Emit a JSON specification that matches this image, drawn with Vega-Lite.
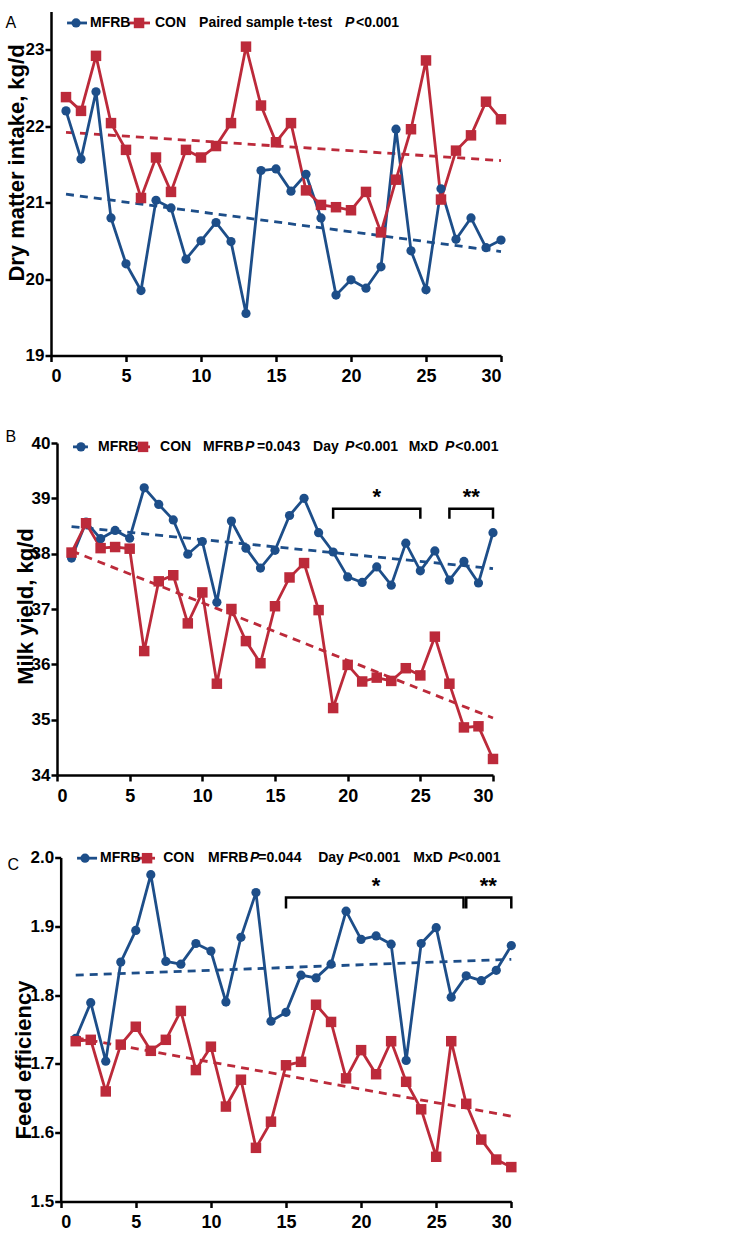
{
  "$schema": "https://vega.github.io/schema/vega-lite/v6.json",
  "padding": {"left": 5, "top": 11.5, "right": 5, "bottom": 5},
  "background": "white",
  "columns": 1,
  "align": "none",
  "spacing": 43.5,
  "datasets": {
    "seriesA": [
      {"day":1,"g":"MFRB","value":22.2},{"day":2,"g":"MFRB","value":21.57},{"day":3,"g":"MFRB","value":22.45},{"day":4,"g":"MFRB","value":20.8},{"day":5,"g":"MFRB","value":20.2},{"day":6,"g":"MFRB","value":19.85},{"day":7,"g":"MFRB","value":21.03},{"day":8,"g":"MFRB","value":20.93},{"day":9,"g":"MFRB","value":20.26},{"day":10,"g":"MFRB","value":20.5},{"day":11,"g":"MFRB","value":20.74},{"day":12,"g":"MFRB","value":20.49},{"day":13,"g":"MFRB","value":19.55},{"day":14,"g":"MFRB","value":21.42},{"day":15,"g":"MFRB","value":21.44},{"day":16,"g":"MFRB","value":21.15},{"day":17,"g":"MFRB","value":21.37},{"day":18,"g":"MFRB","value":20.8},{"day":19,"g":"MFRB","value":19.79},{"day":20,"g":"MFRB","value":19.99},{"day":21,"g":"MFRB","value":19.88},{"day":22,"g":"MFRB","value":20.16},{"day":23,"g":"MFRB","value":21.96},{"day":24,"g":"MFRB","value":20.37},{"day":25,"g":"MFRB","value":19.86},{"day":26,"g":"MFRB","value":21.18},{"day":27,"g":"MFRB","value":20.52},{"day":28,"g":"MFRB","value":20.8},{"day":29,"g":"MFRB","value":20.41},{"day":30,"g":"MFRB","value":20.51},
      {"day":1,"g":"CON","value":22.38},{"day":2,"g":"CON","value":22.2},{"day":3,"g":"CON","value":22.92},{"day":4,"g":"CON","value":22.04},{"day":5,"g":"CON","value":21.69},{"day":6,"g":"CON","value":21.06},{"day":7,"g":"CON","value":21.59},{"day":8,"g":"CON","value":21.14},{"day":9,"g":"CON","value":21.69},{"day":10,"g":"CON","value":21.59},{"day":11,"g":"CON","value":21.74},{"day":12,"g":"CON","value":22.04},{"day":13,"g":"CON","value":23.04},{"day":14,"g":"CON","value":22.27},{"day":15,"g":"CON","value":21.79},{"day":16,"g":"CON","value":22.04},{"day":17,"g":"CON","value":21.16},{"day":18,"g":"CON","value":20.97},{"day":19,"g":"CON","value":20.94},{"day":20,"g":"CON","value":20.9},{"day":21,"g":"CON","value":21.14},{"day":22,"g":"CON","value":20.61},{"day":23,"g":"CON","value":21.3},{"day":24,"g":"CON","value":21.96},{"day":25,"g":"CON","value":22.86},{"day":26,"g":"CON","value":21.04},{"day":27,"g":"CON","value":21.68},{"day":28,"g":"CON","value":21.88},{"day":29,"g":"CON","value":22.32},{"day":30,"g":"CON","value":22.09}
    ],
    "trendA": [
      {"day":1,"g":"MFRB","value":21.11},{"day":30,"g":"MFRB","value":20.36},
      {"day":1,"g":"CON","value":21.92},{"day":30,"g":"CON","value":21.55}
    ],
    "legLineA": [
      {"day":1.07,"g":"MFRB","value":23.35},{"day":2.4,"g":"MFRB","value":23.35},
      {"day":5.13,"g":"CON","value":23.35},{"day":6.6,"g":"CON","value":23.35}
    ],
    "legPtA": [
      {"day":1.67,"g":"MFRB","value":23.35},{"day":5.87,"g":"CON","value":23.35}
    ],
    "legTextA": [
      {"t":"MFRB","day":2.6,"value":23.35},{"t":"CON","day":6.93,"value":23.35},{"t":"Paired sample t-test","day":9.87,"value":23.35},{"t":"P","day":19.6,"value":23.35},{"t":"<0.001","day":20.33,"value":23.35}
    ],
    "seriesB": [
      {"day":1,"g":"MFRB","value":37.92},{"day":2,"g":"MFRB","value":38.57},{"day":3,"g":"MFRB","value":38.27},{"day":4,"g":"MFRB","value":38.42},{"day":5,"g":"MFRB","value":38.28},{"day":6,"g":"MFRB","value":39.19},{"day":7,"g":"MFRB","value":38.89},{"day":8,"g":"MFRB","value":38.61},{"day":9,"g":"MFRB","value":37.99},{"day":10,"g":"MFRB","value":38.22},{"day":11,"g":"MFRB","value":37.12},{"day":12,"g":"MFRB","value":38.59},{"day":13,"g":"MFRB","value":38.1},{"day":14,"g":"MFRB","value":37.74},{"day":15,"g":"MFRB","value":38.06},{"day":16,"g":"MFRB","value":38.69},{"day":17,"g":"MFRB","value":39.0},{"day":18,"g":"MFRB","value":38.38},{"day":19,"g":"MFRB","value":38.03},{"day":20,"g":"MFRB","value":37.58},{"day":21,"g":"MFRB","value":37.48},{"day":22,"g":"MFRB","value":37.76},{"day":23,"g":"MFRB","value":37.43},{"day":24,"g":"MFRB","value":38.19},{"day":25,"g":"MFRB","value":37.69},{"day":26,"g":"MFRB","value":38.05},{"day":27,"g":"MFRB","value":37.52},{"day":28,"g":"MFRB","value":37.86},{"day":29,"g":"MFRB","value":37.47},{"day":30,"g":"MFRB","value":38.38},
      {"day":1,"g":"CON","value":38.02},{"day":2,"g":"CON","value":38.55},{"day":3,"g":"CON","value":38.1},{"day":4,"g":"CON","value":38.12},{"day":5,"g":"CON","value":38.09},{"day":6,"g":"CON","value":36.24},{"day":7,"g":"CON","value":37.5},{"day":8,"g":"CON","value":37.61},{"day":9,"g":"CON","value":36.74},{"day":10,"g":"CON","value":37.3},{"day":11,"g":"CON","value":35.65},{"day":12,"g":"CON","value":37.0},{"day":13,"g":"CON","value":36.42},{"day":14,"g":"CON","value":36.02},{"day":15,"g":"CON","value":37.05},{"day":16,"g":"CON","value":37.57},{"day":17,"g":"CON","value":37.83},{"day":18,"g":"CON","value":36.98},{"day":19,"g":"CON","value":35.21},{"day":20,"g":"CON","value":35.99},{"day":21,"g":"CON","value":35.69},{"day":22,"g":"CON","value":35.76},{"day":23,"g":"CON","value":35.7},{"day":24,"g":"CON","value":35.93},{"day":25,"g":"CON","value":35.8},{"day":26,"g":"CON","value":36.5},{"day":27,"g":"CON","value":35.65},{"day":28,"g":"CON","value":34.86},{"day":29,"g":"CON","value":34.88},{"day":30,"g":"CON","value":34.29}
    ],
    "trendB": [
      {"day":1,"g":"MFRB","value":38.49},{"day":30,"g":"MFRB","value":37.73},
      {"day":1,"g":"CON","value":38.05},{"day":30,"g":"CON","value":35.03}
    ],
    "legLineB": [
      {"day":1.1,"g":"MFRB","value":39.93},{"day":2.13,"g":"MFRB","value":39.93},
      {"day":5.5,"g":"CON","value":39.93},{"day":6.4,"g":"CON","value":39.93}
    ],
    "legPtB": [
      {"day":1.65,"g":"MFRB","value":39.93},{"day":5.92,"g":"CON","value":39.93}
    ],
    "legTextB": [
      {"t":"MFRB","day":2.82,"value":39.93},{"t":"CON","day":7.09,"value":39.93},{"t":"MFRB","day":10.05,"value":39.93},{"t":"P","day":12.94,"value":39.93},{"t":"=0.043","day":13.76,"value":39.93},{"t":"Day","day":17.62,"value":39.93},{"t":"P","day":19.82,"value":39.93},{"t":"<0.001","day":20.5,"value":39.93},{"t":"MxD","day":24.2,"value":39.93},{"t":"P","day":26.7,"value":39.93},{"t":"<0.001","day":27.4,"value":39.93}
    ],
    "bracketB": [
      {"b":1,"o":1,"day":19,"value":38.63},{"b":1,"o":2,"day":19,"value":38.81},{"b":1,"o":3,"day":25,"value":38.81},{"b":1,"o":4,"day":25,"value":38.63},
      {"b":2,"o":1,"day":27,"value":38.63},{"b":2,"o":2,"day":27,"value":38.81},{"b":2,"o":3,"day":30,"value":38.81},{"b":2,"o":4,"day":30,"value":38.63}
    ],
    "starB": [
      {"t":"*","day":22,"value":39.03},{"t":"**","day":28.5,"value":39.03}
    ],
    "seriesC": [
      {"day":1,"g":"MFRB","value":1.737},{"day":2,"g":"MFRB","value":1.789},{"day":3,"g":"MFRB","value":1.704},{"day":4,"g":"MFRB","value":1.848},{"day":5,"g":"MFRB","value":1.894},{"day":6,"g":"MFRB","value":1.975},{"day":7,"g":"MFRB","value":1.849},{"day":8,"g":"MFRB","value":1.845},{"day":9,"g":"MFRB","value":1.875},{"day":10,"g":"MFRB","value":1.864},{"day":11,"g":"MFRB","value":1.79},{"day":12,"g":"MFRB","value":1.884},{"day":13,"g":"MFRB","value":1.949},{"day":14,"g":"MFRB","value":1.762},{"day":15,"g":"MFRB","value":1.775},{"day":16,"g":"MFRB","value":1.829},{"day":17,"g":"MFRB","value":1.825},{"day":18,"g":"MFRB","value":1.845},{"day":19,"g":"MFRB","value":1.922},{"day":20,"g":"MFRB","value":1.881},{"day":21,"g":"MFRB","value":1.886},{"day":22,"g":"MFRB","value":1.874},{"day":23,"g":"MFRB","value":1.705},{"day":24,"g":"MFRB","value":1.875},{"day":25,"g":"MFRB","value":1.898},{"day":26,"g":"MFRB","value":1.797},{"day":27,"g":"MFRB","value":1.828},{"day":28,"g":"MFRB","value":1.821},{"day":29,"g":"MFRB","value":1.836},{"day":30,"g":"MFRB","value":1.872},
      {"day":1,"g":"CON","value":1.733},{"day":2,"g":"CON","value":1.735},{"day":3,"g":"CON","value":1.66},{"day":4,"g":"CON","value":1.728},{"day":5,"g":"CON","value":1.754},{"day":6,"g":"CON","value":1.719},{"day":7,"g":"CON","value":1.735},{"day":8,"g":"CON","value":1.777},{"day":9,"g":"CON","value":1.691},{"day":10,"g":"CON","value":1.725},{"day":11,"g":"CON","value":1.638},{"day":12,"g":"CON","value":1.677},{"day":13,"g":"CON","value":1.578},{"day":14,"g":"CON","value":1.616},{"day":15,"g":"CON","value":1.698},{"day":16,"g":"CON","value":1.703},{"day":17,"g":"CON","value":1.786},{"day":18,"g":"CON","value":1.761},{"day":19,"g":"CON","value":1.679},{"day":20,"g":"CON","value":1.72},{"day":21,"g":"CON","value":1.685},{"day":22,"g":"CON","value":1.733},{"day":23,"g":"CON","value":1.674},{"day":24,"g":"CON","value":1.634},{"day":25,"g":"CON","value":1.565},{"day":26,"g":"CON","value":1.733},{"day":27,"g":"CON","value":1.642},{"day":28,"g":"CON","value":1.59},{"day":29,"g":"CON","value":1.561},{"day":30,"g":"CON","value":1.55}
    ],
    "trendC": [
      {"day":1,"g":"MFRB","value":1.829},{"day":30,"g":"MFRB","value":1.852},
      {"day":1,"g":"CON","value":1.738},{"day":30,"g":"CON","value":1.624}
    ],
    "legLineC": [
      {"day":1.09,"g":"MFRB","value":1.999},{"day":2.42,"g":"MFRB","value":1.999},
      {"day":4.95,"g":"CON","value":1.999},{"day":6.28,"g":"CON","value":1.999}
    ],
    "legPtC": [
      {"day":1.62,"g":"MFRB","value":1.999},{"day":5.75,"g":"CON","value":1.999}
    ],
    "legTextC": [
      {"t":"MFRB","day":2.62,"value":1.999},{"t":"CON","day":6.82,"value":1.999},{"t":"MFRB","day":9.81,"value":1.999},{"t":"P","day":12.61,"value":1.999},{"t":"=0.044","day":13.15,"value":1.999},{"t":"Day","day":17.14,"value":1.999},{"t":"P","day":19.14,"value":1.999},{"t":"<0.001","day":19.74,"value":1.999},{"t":"MxD","day":23.47,"value":1.999},{"t":"P","day":25.8,"value":1.999},{"t":"<0.001","day":26.4,"value":1.999}
    ],
    "bracketC": [
      {"b":1,"o":1,"day":15,"value":1.926},{"b":1,"o":2,"day":15,"value":1.942},{"b":1,"o":3,"day":26.82,"value":1.942},{"b":1,"o":4,"day":26.82,"value":1.926},
      {"b":2,"o":1,"day":27,"value":1.926},{"b":2,"o":2,"day":27,"value":1.942},{"b":2,"o":3,"day":30,"value":1.942},{"b":2,"o":4,"day":30,"value":1.926}
    ],
    "starC": [
      {"t":"*","day":21,"value":1.958},{"t":"**","day":28.47,"value":1.958}
    ]
  },
  "concat": [
    {
      "width": 450, "height": 344,
      "title": {"text": "A", "anchor": "start", "frame": "bounds", "offset": -19, "dx": 0, "fontSize": 16, "fontWeight": "normal", "color": "black"},
      "encoding": {
        "x": {"field": "day", "type": "quantitative", "scale": {"domain": [0, 30], "nice": false}, "axis": {"values": [0,5,10,15,20,25,30], "title": null}},
        "y": {"field": "value", "type": "quantitative", "scale": {"domain": [19, 23.5], "nice": false, "zero": false}, "axis": {"values": [19,20,21,22,23], "title": "Dry matter intake, kg/d", "titleX": -22.6, "titleY": 151}},
        "color": {"field": "g", "type": "nominal", "scale": {"domain": ["MFRB", "CON"], "range": ["#1D4E89", "#BC2A3A"]}, "legend": null}
      },
      "layer": [
        {"data": {"name": "trendA"}, "mark": {"type": "line", "strokeDash": [8, 6], "strokeWidth": 2.8}},
        {"data": {"name": "seriesA"}, "mark": {"type": "line", "strokeWidth": 2.8}},
        {"data": {"name": "seriesA"}, "transform": [{"filter": "datum.g === 'MFRB'"}], "mark": {"type": "point", "shape": "circle", "filled": true, "opacity": 1, "size": 85}},
        {"data": {"name": "seriesA"}, "transform": [{"filter": "datum.g === 'CON'"}], "mark": {"type": "point", "shape": "square", "filled": true, "opacity": 1, "size": 110}},
        {"data": {"name": "legLineA"}, "mark": {"type": "line", "strokeWidth": 2.8}},
        {"data": {"name": "legPtA"}, "transform": [{"filter": "datum.g === 'MFRB'"}], "mark": {"type": "point", "shape": "circle", "filled": true, "opacity": 1, "size": 85}},
        {"data": {"name": "legPtA"}, "transform": [{"filter": "datum.g === 'CON'"}], "mark": {"type": "point", "shape": "square", "filled": true, "opacity": 1, "size": 110}},
        {"data": {"name": "legTextA"}, "transform": [{"filter": "datum.t !== 'P'"}], "mark": {"type": "text", "align": "left", "baseline": "middle", "fontWeight": "bold", "fontSize": 14}, "encoding": {"text": {"field": "t"}, "color": {"value": "black"}}},
        {"data": {"name": "legTextA"}, "transform": [{"filter": "datum.t === 'P'"}], "mark": {"type": "text", "align": "left", "baseline": "middle", "fontWeight": "bold", "fontStyle": "italic", "fontSize": 14}, "encoding": {"text": {"field": "t"}, "color": {"value": "black"}}}
      ]
    },
    {
      "width": 442, "height": 332,
      "title": {"text": "B", "anchor": "start", "frame": "bounds", "offset": -11, "dx": -8.5, "fontSize": 16, "fontWeight": "normal", "color": "black"},
      "encoding": {
        "x": {"field": "day", "type": "quantitative", "scale": {"domain": [0, 30], "nice": false, "range": [6, 442]}, "axis": {"values": [0,5,10,15,20,25,30], "title": null}},
        "y": {"field": "value", "type": "quantitative", "scale": {"domain": [34, 40], "nice": false, "zero": false}, "axis": {"values": [34,35,36,37,38,39,40], "title": "Milk yield, kg/d", "titleX": -20, "titleY": 163, "offset": -6}},
        "color": {"field": "g", "type": "nominal", "scale": {"domain": ["MFRB", "CON"], "range": ["#1D4E89", "#BC2A3A"]}, "legend": null}
      },
      "layer": [
        {"data": {"name": "trendB"}, "mark": {"type": "line", "strokeDash": [8, 6], "strokeWidth": 2.8}},
        {"data": {"name": "seriesB"}, "mark": {"type": "line", "strokeWidth": 2.8}},
        {"data": {"name": "seriesB"}, "transform": [{"filter": "datum.g === 'MFRB'"}], "mark": {"type": "point", "shape": "circle", "filled": true, "opacity": 1, "size": 85}},
        {"data": {"name": "seriesB"}, "transform": [{"filter": "datum.g === 'CON'"}], "mark": {"type": "point", "shape": "square", "filled": true, "opacity": 1, "size": 110}},
        {"data": {"name": "bracketB"}, "mark": {"type": "line", "strokeWidth": 2.5, "strokeJoin": "miter", "strokeCap": "butt"}, "encoding": {"detail": {"field": "b"}, "order": {"field": "o"}, "color": {"value": "black"}}},
        {"data": {"name": "starB"}, "mark": {"type": "text", "align": "center", "baseline": "middle", "fontWeight": "bold", "fontSize": 22}, "encoding": {"text": {"field": "t"}, "color": {"value": "black"}}},
        {"data": {"name": "legLineB"}, "mark": {"type": "line", "strokeWidth": 2.8}},
        {"data": {"name": "legPtB"}, "transform": [{"filter": "datum.g === 'MFRB'"}], "mark": {"type": "point", "shape": "circle", "filled": true, "opacity": 1, "size": 85}},
        {"data": {"name": "legPtB"}, "transform": [{"filter": "datum.g === 'CON'"}], "mark": {"type": "point", "shape": "square", "filled": true, "opacity": 1, "size": 110}},
        {"data": {"name": "legTextB"}, "transform": [{"filter": "datum.t !== 'P'"}], "mark": {"type": "text", "align": "left", "baseline": "middle", "fontWeight": "bold", "fontSize": 14}, "encoding": {"text": {"field": "t"}, "color": {"value": "black"}}},
        {"data": {"name": "legTextB"}, "transform": [{"filter": "datum.t === 'P'"}], "mark": {"type": "text", "align": "left", "baseline": "middle", "fontWeight": "bold", "fontStyle": "italic", "fontSize": 14}, "encoding": {"text": {"field": "t"}, "color": {"value": "black"}}}
      ]
    },
    {
      "width": 461, "height": 344,
      "title": {"text": "C", "anchor": "start", "frame": "bounds", "offset": -24, "dx": -4.9, "fontSize": 16, "fontWeight": "normal", "color": "black"},
      "encoding": {
        "x": {"field": "day", "type": "quantitative", "scale": {"domain": [0, 30], "nice": false, "range": [9.7, 460.3]}, "axis": {"values": [0,5,10,15,20,25,30], "title": null}},
        "y": {"field": "value", "type": "quantitative", "scale": {"domain": [1.5, 2.0], "nice": false, "zero": false}, "axis": {"values": [1.5,1.6,1.7,1.8,1.9,2.0], "format": ".1f", "title": "Feed efficiency", "titleX": -25.3, "titleY": 202, "offset": -9.7}},
        "color": {"field": "g", "type": "nominal", "scale": {"domain": ["MFRB", "CON"], "range": ["#1D4E89", "#BC2A3A"]}, "legend": null}
      },
      "layer": [
        {"data": {"name": "trendC"}, "mark": {"type": "line", "strokeDash": [8, 6], "strokeWidth": 2.8}},
        {"data": {"name": "seriesC"}, "mark": {"type": "line", "strokeWidth": 2.8}},
        {"data": {"name": "seriesC"}, "transform": [{"filter": "datum.g === 'MFRB'"}], "mark": {"type": "point", "shape": "circle", "filled": true, "opacity": 1, "size": 85}},
        {"data": {"name": "seriesC"}, "transform": [{"filter": "datum.g === 'CON'"}], "mark": {"type": "point", "shape": "square", "filled": true, "opacity": 1, "size": 110}},
        {"data": {"name": "bracketC"}, "mark": {"type": "line", "strokeWidth": 2.5, "strokeJoin": "miter", "strokeCap": "butt"}, "encoding": {"detail": {"field": "b"}, "order": {"field": "o"}, "color": {"value": "black"}}},
        {"data": {"name": "starC"}, "mark": {"type": "text", "align": "center", "baseline": "middle", "fontWeight": "bold", "fontSize": 22}, "encoding": {"text": {"field": "t"}, "color": {"value": "black"}}},
        {"data": {"name": "legLineC"}, "mark": {"type": "line", "strokeWidth": 2.8}},
        {"data": {"name": "legPtC"}, "transform": [{"filter": "datum.g === 'MFRB'"}], "mark": {"type": "point", "shape": "circle", "filled": true, "opacity": 1, "size": 85}},
        {"data": {"name": "legPtC"}, "transform": [{"filter": "datum.g === 'CON'"}], "mark": {"type": "point", "shape": "square", "filled": true, "opacity": 1, "size": 110}},
        {"data": {"name": "legTextC"}, "transform": [{"filter": "datum.t !== 'P'"}], "mark": {"type": "text", "align": "left", "baseline": "middle", "fontWeight": "bold", "fontSize": 14}, "encoding": {"text": {"field": "t"}, "color": {"value": "black"}}},
        {"data": {"name": "legTextC"}, "transform": [{"filter": "datum.t === 'P'"}], "mark": {"type": "text", "align": "left", "baseline": "middle", "fontWeight": "bold", "fontStyle": "italic", "fontSize": 14}, "encoding": {"text": {"field": "t"}, "color": {"value": "black"}}}
      ]
    }
  ],
  "config": {
    "font": "Liberation Sans",
    "view": {"stroke": null},
    "title": {"font": "Liberation Sans"},
    "text": {"font": "Liberation Sans"},
    "axis": {
      "grid": false,
      "domainColor": "black", "domainWidth": 2.5,
      "tickColor": "black", "tickWidth": 2.5, "tickSize": 6,
      "labelFont": "Liberation Sans", "labelFontWeight": "bold", "labelColor": "black",
      "titleFont": "Liberation Sans", "titleFontWeight": "bold", "titleFontSize": 22, "titleColor": "black"
    },
    "axisX": {"labelFontSize": 18, "labelPadding": 6},
    "axisY": {"labelFontSize": 17, "labelPadding": 1}
  }
}
